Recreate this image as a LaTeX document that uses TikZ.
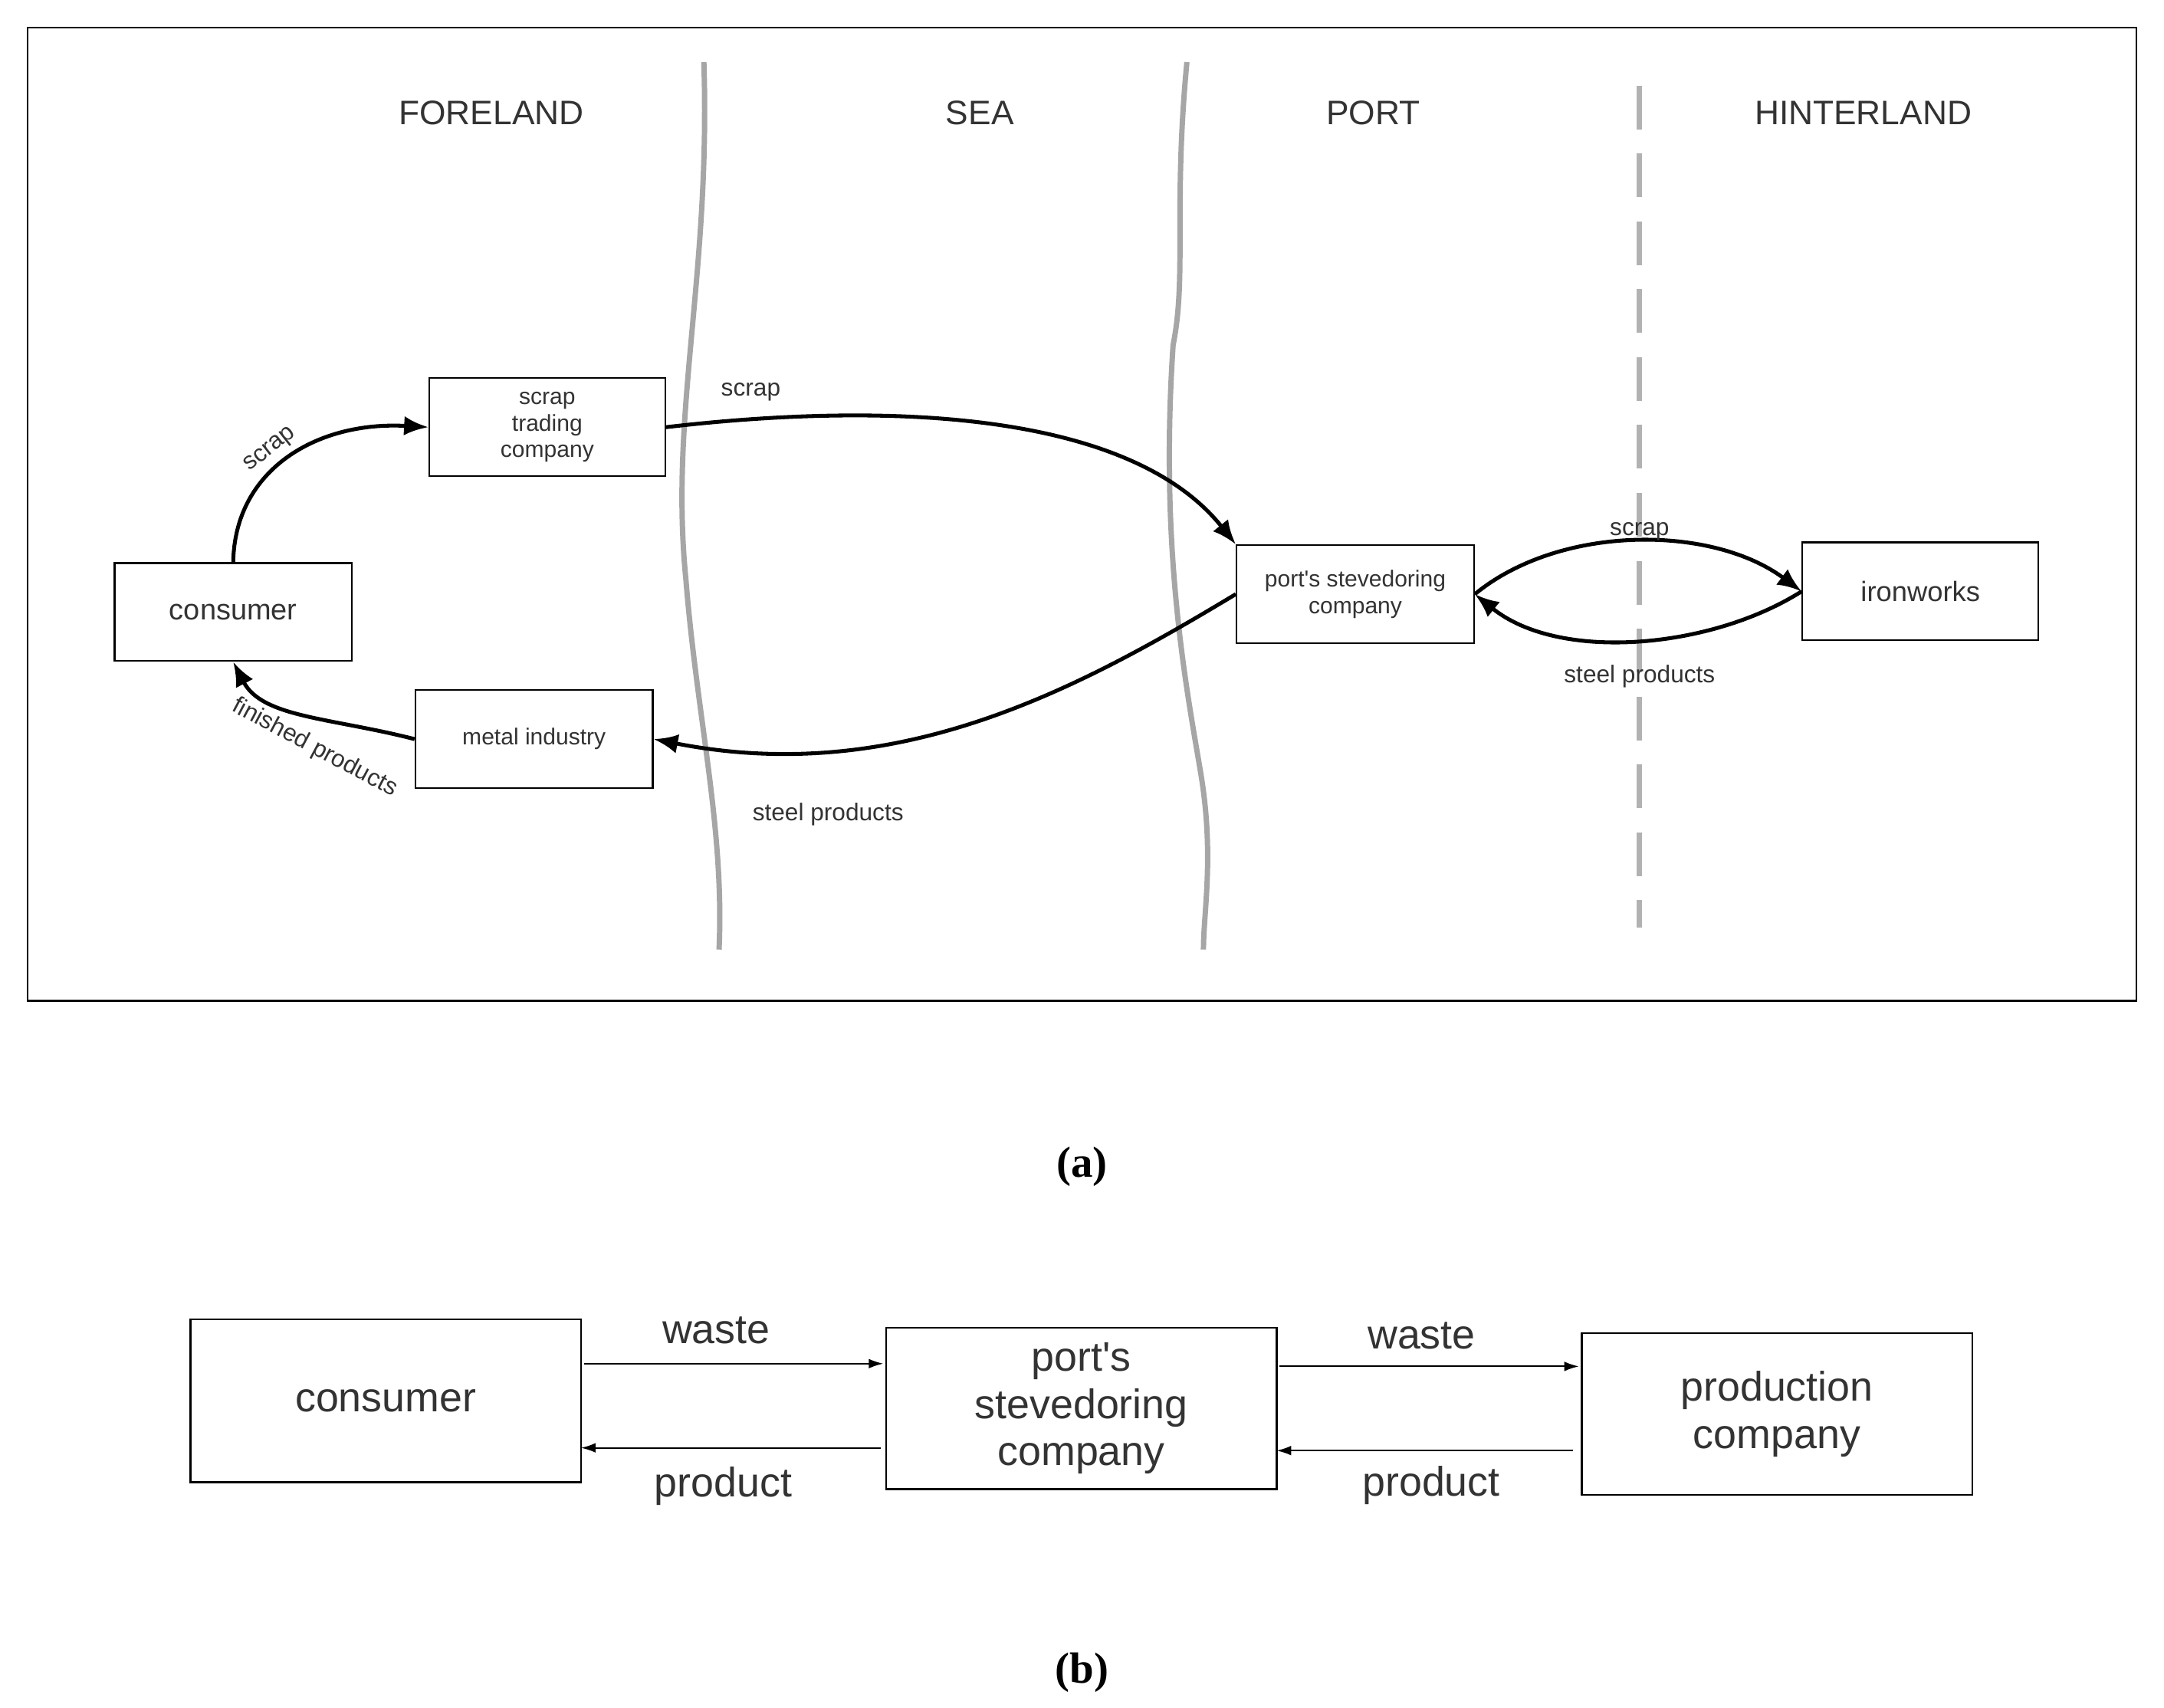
\documentclass[tikz,border=0pt]{standalone}
\usepackage{fontspec}
\setmainfont{Liberation Serif}
\newfontfamily\sfx{Liberation Sans}
\usetikzlibrary{arrows.meta}
\begin{document}
\begin{tikzpicture}[x=0.02cm,y=-0.02cm,
  box/.style={draw,line width=0.7pt,inner sep=0pt,align=center,font=\sfx\fontsize{9.5}{11}\selectfont,text=black!80},
  bbox/.style={draw,line width=0.8pt,inner sep=0pt,align=center,font=\sfx\fontsize{17}{19.5}\selectfont,text=black!80},
  hd/.style={font=\sfx\fontsize{14}{16}\selectfont,text=black!80},
  lab/.style={font=\sfx\fontsize{10}{12}\selectfont,text=black!80},
  blab/.style={font=\sfx\fontsize{17}{19.5}\selectfont,text=black!80},
  flow/.style={line width=1.6pt,-{Latex[length=10pt,width=8pt]}},
  thin/.style={line width=0.6pt,-{Latex[length=6pt,width=4pt]}},
  sea/.style={line width=2.2pt,gray!70}]
\useasboundingbox (0,0) rectangle (1568,1237);
\fill[white] (0,0) rectangle (1568,1237);
\draw[line width=0.8pt] (20,20) rectangle (1548,725);
\draw[sea] (510,45) .. controls (515,200) and (485,300) .. (497,420) .. controls (505,520) and (525,600) .. (521,688);
\draw[sea] (860,45) .. controls (850,150) and (860,200) .. (850,250) .. controls (840,400) and (860,500) .. (870,560) .. controls (880,620) and (872,660) .. (872,688);
\draw[line width=2.2pt,gray!60,dash pattern=on 18pt off 10pt] (1188,62) -- (1188,672);
\node[hd] (hf) at (356,82) {FORELAND};
\node[hd] (hs) at (710,82) {SEA};
\node[hd] (hp) at (995,82) {PORT};
\node[hd] (hh) at (1350,82) {HINTERLAND};
\node[box,minimum width=171*0.02cm,minimum height=71*0.02cm] (st) at (396.5,309.5) {scrap\\trading\\company};
\node[box,minimum width=172*0.02cm,minimum height=71*0.02cm] (co) at (169,443.5) {\fontsize{12}{14}\selectfont consumer};
\node[box,minimum width=172*0.02cm,minimum height=71*0.02cm] (mi) at (387,535.5) {metal industry};
\node[box,minimum width=172*0.02cm,minimum height=71*0.02cm] (ps) at (982,430.5) {port's stevedoring\\company};
\node[box,minimum width=171*0.02cm,minimum height=71*0.02cm] (iw) at (1391.5,428.5) {\fontsize{11.5}{14}\selectfont ironworks};
\draw[flow] (co.north) .. controls (170,340) and (230,305) .. (st.west);
\node[lab,rotate=38] (l1) at (196,326) {scrap};
\draw[flow] (st.east) .. controls (650,290) and (820,300) .. (ps.north west);
\node[lab] (l2) at (544,284) {scrap};
\draw[flow] (ps.west) .. controls (780,500) and (650,570) .. (mi.east);
\node[lab] (l3) at (600,590) {steel products};
\draw[flow] (mi.west) .. controls (240,520) and (190,520) .. (co.south);
\node[lab,rotate=-28] (l4) at (228,542) {finished products};
\draw[flow] (ps.east) .. controls (1130,380) and (1240,380) .. (iw.west);
\node[lab] (l5) at (1188,385) {scrap};
\draw[flow] (iw.west) .. controls (1240,470) and (1130,480) .. (ps.east);
\node[lab] (l6) at (1188,490) {steel products};
\node[font=\bfseries\fontsize{18}{20}\selectfont] (a) at (784,845) {(a)};
\node[bbox,minimum width=283*0.02cm,minimum height=118*0.02cm] (bc) at (279.5,1015) {consumer};
\node[bbox,minimum width=283*0.02cm,minimum height=117*0.02cm] (bp) at (783.5,1020.5) {port's\\stevedoring\\company};
\node[bbox,minimum width=283*0.02cm,minimum height=117*0.02cm] (bq) at (1287.5,1024.5) {production\\company};
\coordinate (c1) at (423,988); \coordinate (c2) at (640,988);
\coordinate (c3) at (638,1049); \coordinate (c4) at (421,1049);
\coordinate (c5) at (927,990); \coordinate (c6) at (1144,990);
\coordinate (c7) at (1140,1051); \coordinate (c8) at (925,1051);
\draw[thin] (c1) -- (c2); \draw[thin] (c3) -- (c4);
\draw[thin] (c5) -- (c6); \draw[thin] (c7) -- (c8);
\node[blab] (w1) at (519,964) {waste};
\node[blab] (p1) at (524,1077) {product};
\node[blab] (w2) at (1030,968) {waste};
\node[blab] (p2) at (1037,1076) {product};
\node[font=\bfseries\fontsize{18}{20}\selectfont] (b) at (784,1212) {(b)};
\end{tikzpicture}
\end{document}
